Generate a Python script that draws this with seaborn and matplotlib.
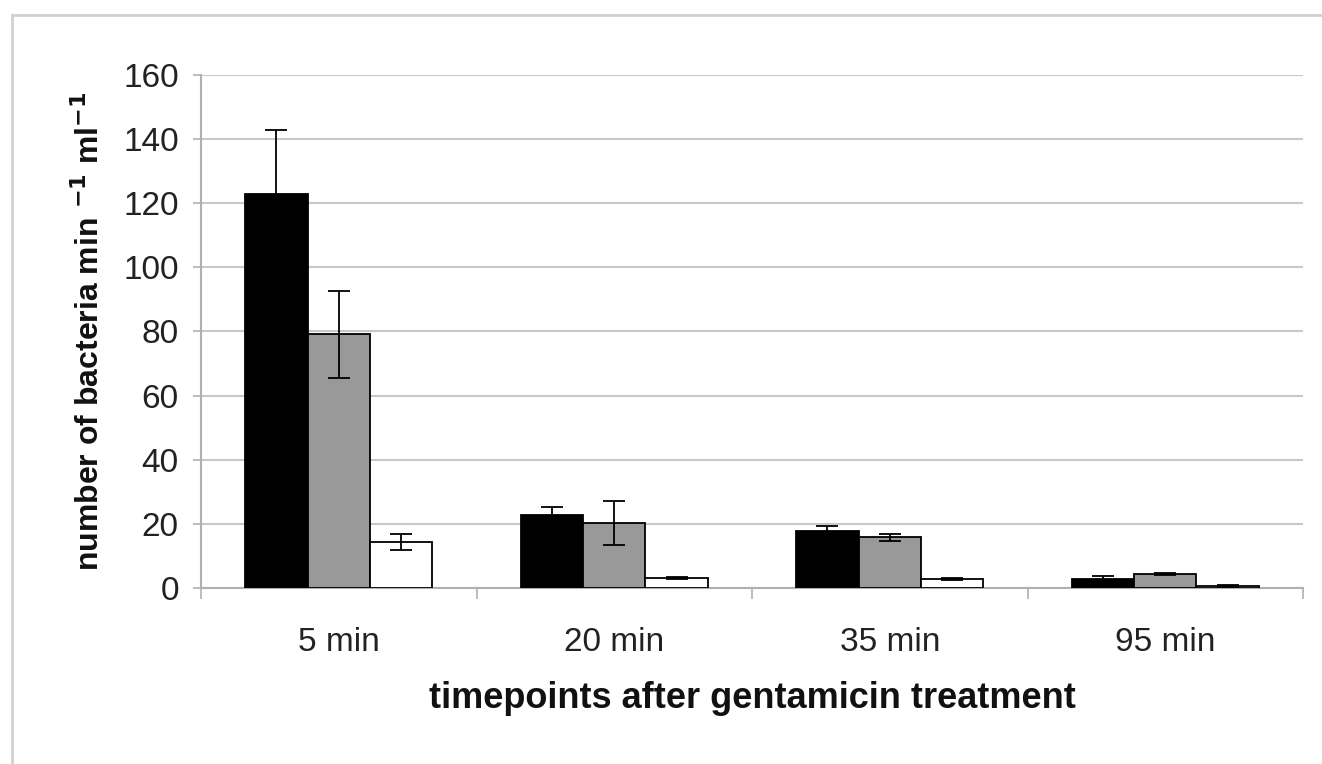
import numpy as np
import pandas as pd
import matplotlib
matplotlib.use("Agg")
import matplotlib.pyplot as plt
import seaborn as sns
from matplotlib.patches import Rectangle

# values
timepoints = ["5 min", "20 min", "35 min", "95 min"]
series = ["A", "B", "C"]
means_a = [123, 22.9, 17.8, 2.9]
means_b = [79.1, 20.2, 15.8, 4.4]
means_c = [14.2, 3.1, 2.8, 0.6]
err_a = [20.0, 2.4, 1.6, 0.8]
err_b = [13.6, 6.9, 1.1, 0.4]
err_c = [2.5, 0.4, 0.4, 0.3]
y_ticks = [0, 20, 40, 60, 80, 100, 120, 140, 160]

df = pd.DataFrame({
    "time": timepoints * 3,
    "series": [s for s in series for _ in timepoints],
    "value": means_a + means_b + means_c,
    "err": err_a + err_b + err_c,
})

sns.set_style("white")
plt.rcParams["font.family"] = ["Liberation Sans", "DejaVu Sans"]

fig = plt.figure(figsize=(13.22, 7.64), dpi=100)
ax = fig.add_axes([201 / 1322, 0.2304, 1102 / 1322, 0.6714])

sns.barplot(data=df, x="time", y="value", hue="series", order=timepoints,
            hue_order=series, palette=["#000000", "#999999", "#ffffff"],
            width=0.68, gap=0, errorbar=None, edgecolor="black",
            linewidth=1.3, legend=False, ax=ax, zorder=3)

# error bars on top of each bar, in the same order as the patches
errs = err_a + err_b + err_c
vals = means_a + means_b + means_c
for p, v, e in zip(ax.patches, vals, errs):
    xc = p.get_x() + p.get_width() / 2
    ax.errorbar(xc, v, yerr=e, fmt="none", ecolor="black", elinewidth=1.3,
                capsize=8, capthick=1.3, zorder=4)

ax.set_ylim(0, 160)
ax.set_xlim(-0.5, 3.5)
ax.set_yticks(y_ticks)
ax.yaxis.grid(True, color="#c8c8c8", lw=1.5, zorder=0)
ax.set_axisbelow(True)

for side in ["top", "right"]:
    ax.spines[side].set_visible(False)
for side in ["left", "bottom"]:
    ax.spines[side].set_color("#b0b0b0")
    ax.spines[side].set_linewidth(1.5)

ax.set_xticks(np.arange(-0.5, 4, 1), minor=True)
ax.tick_params(axis="x", which="major", length=0, pad=28, labelsize=24,
               colors="#222222")
ax.tick_params(axis="x", which="minor", length=8, width=1.2, color="#b0b0b0",
               bottom=True)
ax.tick_params(axis="y", which="major", length=6, width=1.2, color="#b0b0b0",
               left=True, pad=10, labelsize=24, labelcolor="#222222")

ax.set_xlabel("timepoints after gentamicin treatment", fontsize=26,
              fontweight="bold", labelpad=17, color="#111111")
ax.set_ylabel("number of bacteria min $^{\\mathbf{-1}}$ ml$^{\\mathbf{-1}}$",
              fontsize=23, fontweight="bold", labelpad=12, color="#111111")

# light frame around the chart area
fig.patches.append(Rectangle((12 / 1322, -0.05), 1.2, 1 - 15 / 764 + 0.05,
                             transform=fig.transFigure, fill=False,
                             edgecolor="#d0d0d0", lw=2))

fig.savefig("out.png", dpi=100)
